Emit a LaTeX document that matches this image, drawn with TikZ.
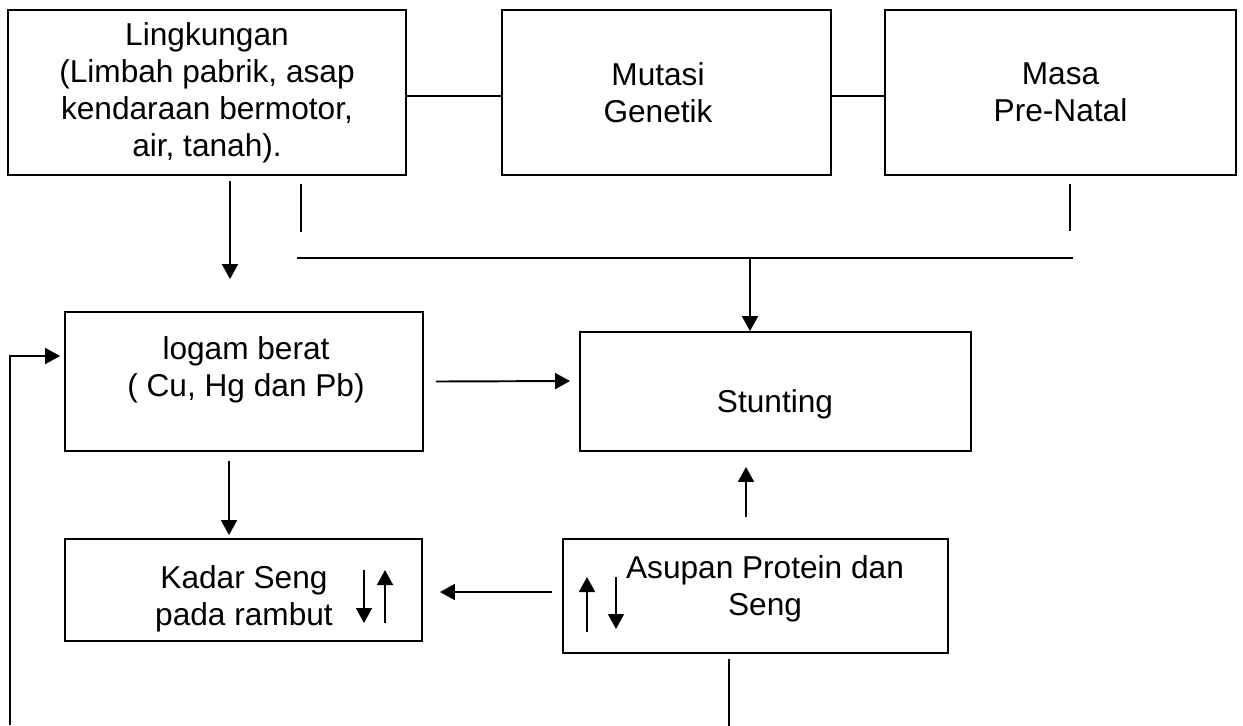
\documentclass[tikz,border=0pt]{standalone}
\usepackage{fontspec}
\setmainfont{Liberation Sans}
\usetikzlibrary{arrows.meta}

\begin{document}
\begin{tikzpicture}[x=0.02cm, y=-0.02cm, line width=1.1pt,
        >={Triangle[length=0.3cm, width=0.32cm]},
        box/.style = {draw, rectangle, inner sep=0pt, align=center, font=\fontsize{18}{21}\selectfont},
        txt/.style = {align=center, inner sep=0pt, font=\fontsize{18}{21}\selectfont}]
        \useasboundingbox (0,0) rectangle (1243,725);
        % top row
        \node[box, minimum width=7.96cm, minimum height=3.3cm] (lingk) at (207,92.5) {Lingkungan\\(Limbah pabrik, asap\\kendaraan bermotor,\\air, tanah).};
        \node[box, minimum width=6.58cm, minimum height=3.3cm] (mutasi) at (666.5,92.5) {};
        \node[txt] (mutasitxt) at (658,93) {Mutasi\\Genetik};
        \node[box, minimum width=7.02cm, minimum height=3.3cm] (masa) at (1060.5,92.5) {Masa\\Pre-Natal};
        % middle and bottom
        \node[box, minimum width=7.16cm, minimum height=2.78cm] (logam) at (244,381.5) {};
        \node[txt] (logamtxt) at (246,370) {logam berat\\( Cu, Hg dan Pb)};
        \node[box, minimum width=7.82cm, minimum height=2.38cm] (stunt) at (775.5,391.5) {};
        \node[txt] (stunttxt) at (775,404) {Stunting};
        \node[box, minimum width=7.14cm, minimum height=2.04cm] (kadar) at (243.5,590) {};
        \node[txt] (kadartxt) at (244,599) {Kadar Seng\\pada rambut};
        \node[box, minimum width=7.7cm, minimum height=2.28cm] (asupan) at (755.5,596) {};
        \node[txt] (asupantxt) at (765,589) {Asupan Protein dan\\Seng};
        \coordinate (busL) at (297,258);
        \coordinate (busR) at (1073,258);
        \coordinate (busM) at (750,258);
        \coordinate (fb) at (10,725);
        % connectors
        \draw ([shift={(0,3.5)}]lingk.east) -- ([shift={(0,3.5)}]mutasi.west);
        \draw ([shift={(0,3.5)}]mutasi.east) -- ([shift={(0,3.5)}]masa.west);
        \draw[->] ([shift={(23,5)}]lingk.south) -- ([shift={(-14,-32)}]logam.north);
        \draw ([shift={(94,8)}]lingk.south) -- ++(0,48);
        \draw ([shift={(9.5,8)}]masa.south) -- ++(0,47);
        \draw (busL) -- (busR);
        \draw[->] (busM) -- (busM |- stunt.north);
        \draw[->] ([shift={(12,0)}]logam.east) -- ([shift={(-9,-10.5)}]stunt.west);
        \draw[->] ([shift={(-15,9)}]logam.south) -- ([shift={(-14.5,-3)}]kadar.north);
        \draw[->] ([shift={(-10,-4)}]asupan.west) -- ([shift={(17,2)}]kadar.east);
        \draw[->] ([shift={(-9.5,-21)}]asupan.north) -- ([shift={(-29.5,15)}]stunt.south);
        \draw ([shift={(-26.5,5)}]asupan.south) -- ++(0,67);
        \draw[->] (fb) |- ([shift={(-4,-25.5)}]logam.west);
        % up and down signs
        \draw[->] ([shift={(120.5,-20)}]kadar.center) -- ++(0,53);
        \draw[->] ([shift={(141.5,33)}]kadar.center) -- ++(0,-53);
        \draw[->] ([shift={(-168.5,36)}]asupan.center) -- ++(0,-55);
        \draw[->] ([shift={(-139.5,-19)}]asupan.center) -- ++(0,52);
\end{tikzpicture}
\end{document}
